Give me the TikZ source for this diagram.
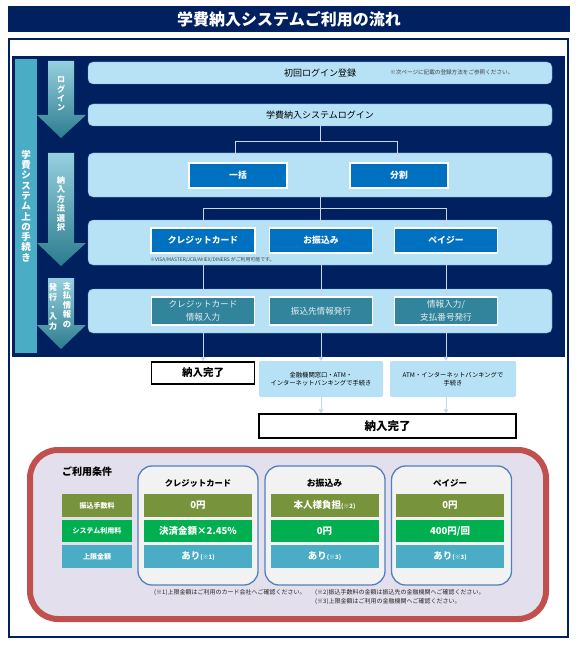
\documentclass[tikz,border=0pt]{standalone}
\usepackage{fontspec}
\setmainfont{Noto Sans CJK JP}
\usetikzlibrary{arrows.meta}

\definecolor{navy}{HTML}{002060}
\definecolor{bandfill}{RGB}{183,226,246}
\definecolor{bandline}{RGB}{110,160,205}
\definecolor{choiceblue}{HTML}{0070C0}
\definecolor{inputteal}{HTML}{31849B}
\definecolor{colteal}{HTML}{4BACC6}
\definecolor{arrtop}{RGB}{150,208,222}
\definecolor{arrbot}{RGB}{44,124,142}
\definecolor{linecol}{RGB}{200,214,236}
\definecolor{olive}{HTML}{77933C}
\definecolor{grn}{HTML}{00B050}
\definecolor{redframe}{HTML}{C0504D}
\definecolor{lavender}{RGB}{228,223,236}
\definecolor{panelline}{HTML}{4F81BD}

\tikzset{
  band/.style={draw=bandline, fill=bandfill, rounded corners=5pt, minimum width=464pt,
    inner sep=0pt, font=\fontsize{9}{11}\selectfont},
  choice/.style={draw=white, line width=1.6pt, fill=choiceblue, text=white,
    font=\bfseries\fontsize{8.8}{11}\selectfont, minimum height=25pt, inner sep=0pt},
  inputbox/.style={draw=white, line width=1.6pt, fill=inputteal, text=white!88!inputteal,
    minimum width=103pt, minimum height=28pt, inner sep=0pt, align=center,
    font=\fontsize{8.6}{12.5}\selectfont},
  donebox/.style={draw=black, line width=1.5pt, fill=white, inner sep=0pt,
    minimum height=22pt, font=\bfseries\fontsize{10.5}{12}\selectfont},
  bankbox/.style={fill=bandfill, rounded corners=2pt, inner sep=0pt, align=center,
    minimum height=36pt, font=\fontsize{6.3}{8}\selectfont},
  conn/.style={draw=linecol, line width=0.8pt},
  arr/.style={conn, -{Triangle[length=4pt,width=5pt]}},
  vtext/.style={text=white, align=center, inner sep=0pt},
  rowlab/.style={minimum width=70pt, minimum height=22.5pt, inner sep=0pt, text=white,
    font=\bfseries\fontsize{7}{8}\selectfont},
  cell/.style={minimum width=108pt, minimum height=22.5pt, inner sep=0pt, text=white,
    font=\bfseries\fontsize{9.5}{11}\selectfont},
  payway/.style={draw=panelline, line width=1.3pt, fill=black!5, rounded corners=14pt,
    minimum width=120pt, minimum height=119pt, inner sep=0pt},
  note/.style={inner sep=0pt, anchor=west, text=black!85, font=\fontsize{6}{7.5}\selectfont}
}

\newcommand\smallref[1]{{\fontsize{6}{7}\selectfont(#1)}}

\begin{document}
\begin{tikzpicture}[x=1pt, y=-1pt]
  \useasboundingbox (0,0) rectangle (579,647);
  % title
  \fill[navy] (8,6) rectangle (570,32);
  \node[text=white, font=\bfseries\fontsize{16}{18}\selectfont] (title) at (289,19) {学費納入システムご利用の流れ};
  \draw[navy, line width=2pt] (9,39) rectangle (568,637);

  % dark panel
  \fill[navy] (12,56) rectangle (565,357);
  \fill[colteal] (15,59) rectangle (37,353);
  \node[vtext, font=\bfseries\fontsize{9.5}{10.3}\selectfont] (proc) at (26,206)
    {学\\費\\シ\\ス\\テ\\ム\\上\\の\\手\\続\\き};

  % step arrows
  \foreach \ya/\yb/\yc in {61/115/138, 153/243/266, 278/325/349}
    \shade[top color=arrtop, bottom color=arrbot]
      (48,\ya) -- (74,\ya) -- (74,\yb) -- (86,\yb) -- (61,\yc) -- (37,\yb) -- (48,\yb) -- cycle;
  \node[vtext, font=\bfseries\fontsize{8}{9.3}\selectfont] (steplogin) at (61,94) {ロ\\グ\\イ\\ン};
  \node[vtext, font=\bfseries\fontsize{8.3}{9.5}\selectfont] (stepchoose) at (61,204) {納\\入\\方\\法\\選\\択};
  \node[vtext, font=\bfseries\fontsize{8.3}{9.6}\selectfont] (stepissueL) at (53,307) {発\\行\\・\\入\\力};
  \node[vtext, font=\bfseries\fontsize{8.3}{9.6}\selectfont] (stepissueR) at (67,305) {支\\払\\情\\報\\の};

  % bands
  \node[band, minimum height=22pt] (first) at (320,73) {初回ログイン登録};
  \node[inner sep=0pt, anchor=west, text=black!75, font=\fontsize{5.6}{7}\selectfont] (firstnote) at (390,72)
    {※次ページに記載の登録方法をご参照ください。};
  \node[band, minimum height=22pt] (login) at (320,115) {学費納入システムログイン};
  \node[band, minimum height=44pt] (method) at (320,175) {};
  \node[band, minimum height=45pt] (kind) at (320,242.5) {};
  \node[band, minimum height=44pt] (input) at (320,311) {};

  % choices
  \node[choice, minimum width=98pt] (lump) at (238,175.5) {一括};
  \node[choice, minimum width=98pt] (split) at (399,175.5) {分割};
  \node[choice, minimum width=104pt] (card) at (203,240.5) {クレジットカード};
  \node[choice, minimum width=103pt] (bank) at (321,240.5) {お振込み};
  \node[choice, minimum width=103pt] (payeasy) at (446,240.5) {ペイジー};
  \node[inner sep=0pt, anchor=west, text=black!75, font=\fontsize{4.9}{6}\selectfont] (cardnote) at (150,260)
    {※VISA/MASTER/JCB/AMEX/DINERS がご利用可能です。};
  \node[inputbox] (cardin) at (203,311) {クレジットカード\\情報入力};
  \node[inputbox] (bankin) at (321,311) {振込先情報発行};
  \node[inputbox] (payin) at (446,311) {情報入力/\\支払番号発行};

  % below the panel
  \node[donebox, minimum width=103pt] (done1) at (203,373) {納入完了};
  \node[bankbox, minimum width=124pt] (counter) at (321,379) {金融機関窓口・ATM・\\インターネットバンキングで手続き};
  \node[bankbox, minimum width=126pt] (atm) at (453,379) {ATM・インターネットバンキングで\\手続き};
  \node[donebox, minimum width=257pt, minimum height=24pt, font=\bfseries\fontsize{11.5}{13}\selectfont] (done2) at (387.5,426) {納入完了};

  % lines
  \draw[conn] (login.south) -- ++(0,15) coordinate (j1);
  \draw[arr] (j1) -| ([xshift=-3pt]lump.north);
  \draw[arr] (j1) -| ([xshift=-2pt]split.north);
  \draw[conn] (method.south) -- ++(0,11) coordinate (j2);
  \draw[arr] (j2) -| (card.north);
  \draw[arr] (j2) -- (j2 |- bank.north);
  \draw[arr] (j2) -| (payeasy.north);
  \draw[arr] (card.south) -- (cardin.north);
  \draw[arr] (bank.south) -- (bankin.north);
  \draw[arr] (payeasy.south) -- (payin.north);
  \draw[arr] (cardin.south) -- (done1.north);
  \draw[arr] (bankin.south) -- (counter.north);
  \draw[arr] (payin.south) -- (payin.south |- atm.north);
  \draw[arr] (counter.south) -- (counter.south |- done2.north);
  \draw[arr] (payin.south |- atm.south) -- (payin.south |- done2.north);

  % conditions
  \draw[redframe, line width=6pt, fill=lavender, rounded corners=28pt] (30,450) rectangle (546,619);
  \node[inner sep=0pt, font=\bfseries\fontsize{10}{12}\selectfont] (cond) at (87,472) {ご利用条件};
  \node[rowlab, fill=olive] (fee) at (97,505.5) {振込手数料};
  \node[rowlab, fill=grn] (sys) at (97,531) {システム利用料};
  \node[rowlab, fill=colteal] (limit) at (97,556.5) {上限金額};

  \node[payway] (pcard) at (198,525.5) {};
  \node[payway] (pbank) at (325,525.5) {};
  \node[payway] (ppay) at (451.5,525.5) {};
  \node[inner sep=0pt, font=\bfseries\fontsize{8.3}{10}\selectfont] (tcard) at (198,483) {クレジットカード};
  \node[inner sep=0pt, font=\bfseries\fontsize{8.8}{10}\selectfont] (tbank) at (324.5,483) {お振込み};
  \node[inner sep=0pt, font=\bfseries\fontsize{8.5}{10}\selectfont] (tpay) at (450,483) {ペイジー};

  \node[cell, fill=olive] (cardfee) at (198,505.5) {0円};
  \node[cell, fill=grn] (cardsys) at (198,531) {決済金額×2.45\%};
  \node[cell, fill=colteal] (cardlim) at (198,556.5) {あり\smallref{※1}};
  \node[cell, fill=olive] (bankfee) at (324.5,505.5) {本人様負担\smallref{※2}};
  \node[cell, fill=grn] (banksys) at (324.5,531) {0円};
  \node[cell, fill=colteal] (banklim) at (324.5,556.5) {あり\smallref{※3}};
  \node[cell, fill=olive] (payfee) at (450,505.5) {0円};
  \node[cell, fill=grn] (paysys) at (450,531) {400円/回};
  \node[cell, fill=colteal] (paylim) at (450,556.5) {あり\smallref{※3}};

  \node[note] (fn1) at (154,593) {(※1)上限金額はご利用のカード会社へご確認ください。};
  \node[note] (fn2) at (315,593) {(※2)振込手数料の金額は振込先の金融機関へご確認ください。};
  \node[note] (fn3) at (315,602) {(※3)上限金額はご利用の金融機関へご確認ください。};
\end{tikzpicture}
\end{document}
